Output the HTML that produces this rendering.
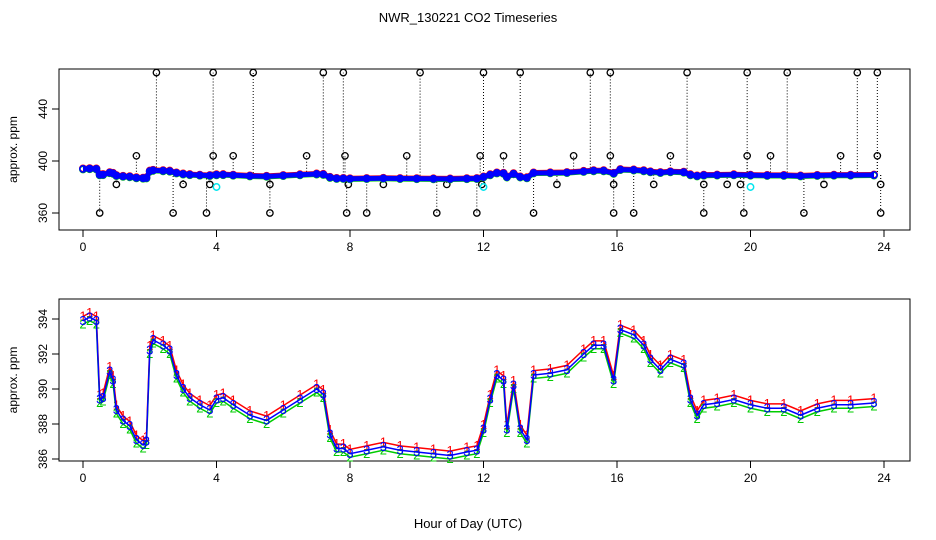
<!DOCTYPE html>
<html><head><meta charset="utf-8"><style>
body{margin:0;background:#fff}
svg{display:block;font-family:"Liberation Sans",sans-serif}
</style></head><body>
<svg id="c" width="936" height="540">
<text x="468" y="22" font-size="13" text-anchor="middle">NWR_130221  CO2 Timeseries</text>
<text x="468" y="528" font-size="13" text-anchor="middle">Hour of Day (UTC)</text>
<g id="topPanel"></g>
<g id="botPanel"></g>
</svg>
<script>
// data
const hours=[0,0.2,0.4,0.5,0.6,0.8,0.9,1.0,1.2,1.4,1.6,1.8,1.9,2.0,2.1,2.4,2.6,2.8,3.0,3.2,3.5,3.8,4.0,4.2,4.5,5.0,5.5,6.0,6.5,7.0,7.2,7.4,7.6,7.8,8.0,8.5,9.0,9.5,10.0,10.5,11.0,11.5,11.8,12.0,12.2,12.4,12.6,12.7,12.9,13.1,13.3,13.5,14.0,14.5,15.0,15.3,15.6,15.9,16.1,16.5,16.8,17.0,17.3,17.6,18.0,18.2,18.4,18.6,19.0,19.5,20.0,20.5,21.0,21.5,22.0,22.5,23.0,23.7];
const co2=[393.9,394.1,393.9,389.4,389.5,391.0,390.5,388.8,388.2,387.9,387.1,386.8,387.0,392.2,392.8,392.5,392.2,390.8,390.0,389.5,389.1,388.8,389.4,389.5,389.1,388.5,388.2,388.8,389.4,390.0,389.7,387.4,386.6,386.6,386.3,386.5,386.7,386.5,386.4,386.3,386.2,386.4,386.5,387.7,389.4,390.8,390.5,387.7,390.2,387.7,387.1,390.8,390.9,391.1,392.0,392.5,392.5,390.5,393.4,393.1,392.5,391.7,391.1,391.7,391.4,389.4,388.5,389.1,389.2,389.4,389.1,388.9,388.9,388.5,388.9,389.1,389.1,389.2];
const outHours=[2.2,3.9,5.1,7.2,7.8,10.1,12.0,13.1,15.2,15.8,18.1,19.9,21.1,23.2,23.8,1.6,3.9,4.5,6.7,7.85,9.7,11.9,12.6,14.7,15.8,17.6,19.9,20.6,22.7,23.8,1.0,3.0,3.8,5.6,7.95,9.0,10.9,11.95,14.2,15.9,17.1,18.6,19.3,19.7,22.2,23.9,0.5,2.7,3.7,5.6,7.9,8.5,10.6,11.8,13.5,15.9,16.5,18.6,19.8,21.6,23.9];
const outVals=[468,468,468,468,468,468,468,468,468,468,468,468,468,468,468,404,404,404,404,404,404,404,404,404,404,404,404,404,404,404,382,382,382,382,382,382,382,382,382,382,382,382,382,382,382,382,360,360,360,360,360,360,360,360,360,360,360,360,360,360,360];
const calHours=[4.0,12.0,20.0];
const calVals=[380,380,380];
const xTicks=[0,4,8,12,16,20,24];
const topTicks=[360,400,440];
const botTicks=[386,388,390,392,394];

const NS="http://www.w3.org/2000/svg";
function mk(p,t,a){const e=document.createElementNS(NS,t);for(const k in a)e.setAttribute(k,a[k]);p.appendChild(e);return e;}
const X=h=>83+h*33.375;
const Yt=v=>213-(v-360)*1.3;
const Yb=v=>459-(v-386)*17.5;
const gTop=document.getElementById('topPanel'),gBot=document.getElementById('botPanel');

function frame(g,y0,y1,Y,ticks,name){
  const r=mk(g,'rect',{x:59,y:y0,width:851,height:y1-y0,fill:'none',stroke:'#000'});
  
  
  xTicks.forEach(t=>{
    const l=mk(g,'line',{x1:X(t),x2:X(t),y1:y1,y2:y1+7,stroke:'#000'});
    
    
    const tx=mk(g,'text',{x:X(t),y:y1+21,'font-size':12,'text-anchor':'middle'});tx.textContent=t;
    
    
  });
  ticks.forEach(t=>{
    const l=mk(g,'line',{x1:52,x2:59,y1:Y(t),y2:Y(t),stroke:'#000'});
    
    
    const tx=mk(g,'text',{x:0,y:0,'font-size':12,'text-anchor':'middle',transform:`translate(47,${Y(t)}) rotate(-90)`});tx.textContent=t;
    
    
  });
  const yl=mk(g,'text',{x:0,y:0,'font-size':12,'text-anchor':'middle',transform:`translate(17,${(y0+y1)/2}) rotate(-90)`});yl.textContent='approx. ppm';
  
  
}
frame(gTop,69,230,Yt,topTicks,'top');
frame(gBot,299,461,Yb,botTicks,'bottom');

function nearest(h){let b=0;hours.forEach((x,i)=>{if(Math.abs(x-h)<Math.abs(hours[b]-h))b=i;});return co2[b];}
outHours.forEach((h,i)=>{
  const l=mk(gTop,'line',{x1:X(h),x2:X(h),y1:Yt(nearest(h)),y2:Yt(outVals[i]),stroke:'#000','stroke-dasharray':'1,2'});
  
  
  const c=mk(gTop,'circle',{cx:X(h),cy:Yt(outVals[i]),r:3.2,fill:'none',stroke:'#000','stroke-width':1.3});
  
  
});
[[0.4,'red'],[-0.4,'#00cc00'],[0,'blue']].forEach(([o,col])=>{
  const band=mk(gTop,'polyline',{points:hours.map((h,i)=>X(h)+','+Yt(co2[i]+o)).join(' '),fill:'none',stroke:col,'stroke-width':5,'stroke-linejoin':'round'});
  
  
  hours.forEach((h,i)=>{
    const c=mk(gTop,'circle',{cx:X(h),cy:Yt(co2[i]+o),r:3.2,fill:'none',stroke:col,'stroke-width':1.5});
    
    
  });
});
calHours.forEach((h,i)=>{
  const c=mk(gTop,'circle',{cx:X(h),cy:Yt(calVals[i]),r:3.2,fill:'none',stroke:'#00e5ee','stroke-width':1.5});
  
  
});

[[0.25,'red','1'],[-0.2,'#00cc00','2'],[0,'blue','3']].forEach(([o,col,ch])=>{
  const p=mk(gBot,'polyline',{points:hours.map((h,i)=>X(h)+','+Yb(co2[i]+o)).join(' '),fill:'none',stroke:col,'stroke-width':1.5});
  
  
  hours.forEach((h,i)=>{
    const t=mk(gBot,'text',{x:X(h),y:Yb(co2[i]+o)+4,'font-size':13,fill:col,'text-anchor':'middle'});t.textContent=ch;
    
    
  });
});
</script>
</body></html>
